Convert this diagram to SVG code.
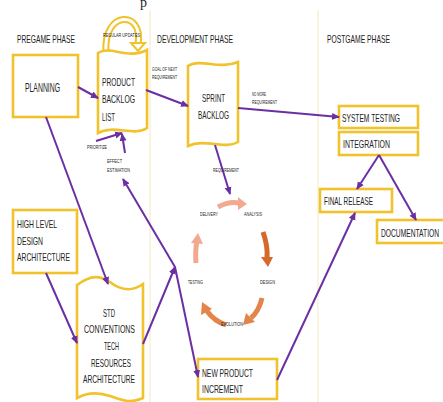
<svg xmlns="http://www.w3.org/2000/svg" width="443" height="402" viewBox="0 0 443 402">
<defs>
<style>
.box{fill:#fff;stroke:#f0c22c;stroke-width:2.6}
.t{font-family:"Liberation Sans Narrow","Liberation Sans",sans-serif;fill:#222}
.h{font-size:11px}
.b{font-size:11.5px}
.s{font-size:4.5px}
.c{stroke:#6b2fa3;stroke-width:2;fill:none}
.ph{stroke:#f6f0d6;stroke-width:1.5}
</style>
<marker id="ah" markerWidth="8" markerHeight="8" refX="7" refY="4" orient="auto" markerUnits="userSpaceOnUse">
<path d="M0,0.5 L8,4 L0,7.5 Z" fill="#6b2fa3"/>
</marker>
</defs>
<rect width="443" height="402" fill="#fff"/>
<text x="140" y="7" font-family="Liberation Serif,serif" font-size="14" fill="#222">p</text>
<g id="phase-lines">
<line class="ph" x1="150" y1="10" x2="150" y2="402"/>
<line class="ph" x1="318" y1="10" x2="318" y2="402"/>
</g>
<g id="headers">
<text class="t h" x="17" y="43" textLength="58" lengthAdjust="spacingAndGlyphs">PREGAME PHASE</text>
<text class="t h" x="157" y="43" textLength="76" lengthAdjust="spacingAndGlyphs">DEVELOPMENT PHASE</text>
<text class="t h" x="327" y="43" textLength="63" lengthAdjust="spacingAndGlyphs">POSTGAME PHASE</text>
</g>
<g id="planning">
<rect class="box" x="13" y="55" width="65" height="62"/>
<text class="t" font-size="12.5" x="25" y="92" textLength="35" lengthAdjust="spacingAndGlyphs">PLANNING</text>
</g>
<g id="regular-updates">
<path d="M106,52 C103,10 144,10 138,44" fill="none" stroke="#f0c22c" stroke-width="7"/>
<path d="M106,52 C103,10 144,10 138,44" fill="none" stroke="#fff" stroke-width="3"/>
<path d="M131,43 L145,43 L138,51 Z" fill="#fff" stroke="#f0c22c" stroke-width="2"/>
<text class="t s" x="103" y="37" textLength="37" lengthAdjust="spacingAndGlyphs">REGULAR UPDATES</text>
</g>
<g id="product-backlog">
<path class="box" d="M98,53 C110,45 128,60 147,50 L147,128 C134,137 114,124 98,133 Z"/>
<text class="t b" x="102" y="86" textLength="33" lengthAdjust="spacingAndGlyphs">PRODUCT</text>
<text class="t b" x="102" y="103" textLength="33" lengthAdjust="spacingAndGlyphs">BACKLOG</text>
<text class="t b" x="102" y="121" textLength="13" lengthAdjust="spacingAndGlyphs">LIST</text>
</g>
<g id="sprint-backlog">
<path class="box" d="M188,66 C200,58 220,70 238,62 L238,142 C225,150 205,138 188,146 Z"/>
<text class="t b" x="202" y="102" textLength="23" lengthAdjust="spacingAndGlyphs">SPRINT</text>
<text class="t b" x="198" y="119" textLength="31" lengthAdjust="spacingAndGlyphs">BACKLOG</text>
</g>
<g id="system-testing">
<rect class="box" x="339" y="106" width="79" height="22"/>
<text class="t b" x="342" y="122" textLength="58" lengthAdjust="spacingAndGlyphs">SYSTEM TESTING</text>
</g>
<g id="integration">
<rect class="box" x="339" y="132" width="79" height="23"/>
<text class="t b" x="343" y="148" textLength="47" lengthAdjust="spacingAndGlyphs">INTEGRATION</text>
</g>
<g id="final-release">
<rect class="box" x="320" y="189" width="72" height="23"/>
<text class="t b" x="324" y="205" textLength="49" lengthAdjust="spacingAndGlyphs">FINAL RELEASE</text>
</g>
<g id="documentation">
<rect class="box" x="377" y="220" width="68" height="23"/>
<text class="t b" x="381" y="237" textLength="58" lengthAdjust="spacingAndGlyphs">DOCUMENTATION</text>
</g>
<g id="high-level-design">
<rect class="box" x="13" y="210" width="64" height="63"/>
<text class="t b" x="17" y="228" textLength="40" lengthAdjust="spacingAndGlyphs">HIGH LEVEL</text>
<text class="t b" x="17" y="245" textLength="26" lengthAdjust="spacingAndGlyphs">DESIGN</text>
<text class="t b" x="17" y="261" textLength="53" lengthAdjust="spacingAndGlyphs">ARCHITECTURE</text>
</g>
<g id="std-conventions">
<path class="box" d="M77,285 C92,274 100,276 110,282 C120,290 132,292 143,284 L143,398 C130,404 122,400 110,396 C98,392 88,392 77,398 Z"/>
<text class="t b" x="103" y="317" textLength="12" lengthAdjust="spacingAndGlyphs">STD</text>
<text class="t b" x="84" y="333" textLength="51" lengthAdjust="spacingAndGlyphs">CONVENTIONS</text>
<text class="t b" x="104" y="350" textLength="15" lengthAdjust="spacingAndGlyphs">TECH</text>
<text class="t b" x="91" y="367" textLength="40" lengthAdjust="spacingAndGlyphs">RESOURCES</text>
<text class="t b" x="83" y="383" textLength="52" lengthAdjust="spacingAndGlyphs">ARCHITECTURE</text>
</g>
<g id="new-product-increment">
<rect class="box" x="198" y="359" width="79" height="40"/>
<text class="t b" x="202" y="377" textLength="51" lengthAdjust="spacingAndGlyphs">NEW PRODUCT</text>
<text class="t b" x="202" y="393" textLength="41" lengthAdjust="spacingAndGlyphs">INCREMENT</text>
</g>
<g id="cycle">
<path d="M218,207 Q229,201 239,203" fill="none" stroke="#f3a98f" stroke-width="5"/>
<path d="M238,197 L247,204 L238,210 Z" fill="#f3a98f"/>
<path d="M263,232 Q268,246 267,258" fill="none" stroke="#d5692c" stroke-width="5"/>
<path d="M261,257 L268,267 L273,257 Z" fill="#d5692c"/>
<path d="M262,298 Q259,311 251,318" fill="none" stroke="#e3854a" stroke-width="5"/>
<path d="M246,313 L243,325 L255,322 Z" fill="#e3854a"/>
<path d="M226,325 Q214,321 207,311" fill="none" stroke="#e3854a" stroke-width="5"/>
<path d="M201,315 L202,302 L212,309 Z" fill="#e3854a"/>
<path d="M196,263 Q195,250 197,241" fill="none" stroke="#f3a98f" stroke-width="5"/>
<path d="M191,243 L198,233 L203,244 Z" fill="#f3a98f"/>
<text class="t s" x="200" y="216" textLength="18" lengthAdjust="spacingAndGlyphs">DELIVERY</text>
<text class="t s" x="244" y="216" textLength="18" lengthAdjust="spacingAndGlyphs">ANALYSIS</text>
<text class="t s" x="188" y="284" textLength="15" lengthAdjust="spacingAndGlyphs">TESTING</text>
<text class="t s" x="260" y="284" textLength="15" lengthAdjust="spacingAndGlyphs">DESIGN</text>
<text class="t s" x="221" y="326" textLength="22" lengthAdjust="spacingAndGlyphs">EVOLUTION</text>
</g>
<g id="connectors">
<line class="c" x1="78" y1="87" x2="98" y2="98" marker-end="url(#ah)"/>
<line class="c" x1="46" y1="117" x2="108" y2="284" marker-end="url(#ah)"/>
<line class="c" x1="146" y1="90" x2="188" y2="106" marker-end="url(#ah)"/>
<line class="c" x1="238" y1="108" x2="339" y2="117" marker-end="url(#ah)"/>
<line class="c" x1="379" y1="155" x2="357" y2="189" marker-end="url(#ah)"/>
<line class="c" x1="379" y1="155" x2="416" y2="220" marker-end="url(#ah)"/>
<line class="c" x1="277" y1="380" x2="355" y2="213" marker-end="url(#ah)"/>
<line class="c" x1="46" y1="273" x2="77" y2="343" marker-end="url(#ah)"/>
<line class="c" x1="143" y1="344" x2="175" y2="267" marker-end="url(#ah)"/>
<line class="c" x1="175" y1="267" x2="198" y2="377" marker-end="url(#ah)"/>
<line class="c" x1="175" y1="267" x2="123" y2="179" marker-end="url(#ah)"/>
<line class="c" x1="96" y1="141" x2="122" y2="133" marker-end="url(#ah)"/>
<line class="c" x1="125" y1="153" x2="122" y2="134" marker-end="url(#ah)"/>
<line class="c" x1="215" y1="145" x2="230" y2="194" marker-end="url(#ah)"/>
<text class="t s" x="152" y="71" textLength="25" lengthAdjust="spacingAndGlyphs">GOAL OF NEXT</text>
<text class="t s" x="152" y="79" textLength="25" lengthAdjust="spacingAndGlyphs">REQUIREMENT</text>
<text class="t s" x="252" y="96" textLength="14" lengthAdjust="spacingAndGlyphs">NO MORE</text>
<text class="t s" x="252" y="104" textLength="25" lengthAdjust="spacingAndGlyphs">REQUIREMENT</text>
<text class="t s" x="213" y="172" textLength="26" lengthAdjust="spacingAndGlyphs">REQUIREMENT</text>
<text class="t s" x="87" y="149" textLength="20" lengthAdjust="spacingAndGlyphs">PRIORITIZE</text>
<text class="t s" x="107" y="163" textLength="15" lengthAdjust="spacingAndGlyphs">EFFECT</text>
<text class="t s" x="107" y="172" textLength="23" lengthAdjust="spacingAndGlyphs">ESTIMATION</text>
</g>
</svg>
